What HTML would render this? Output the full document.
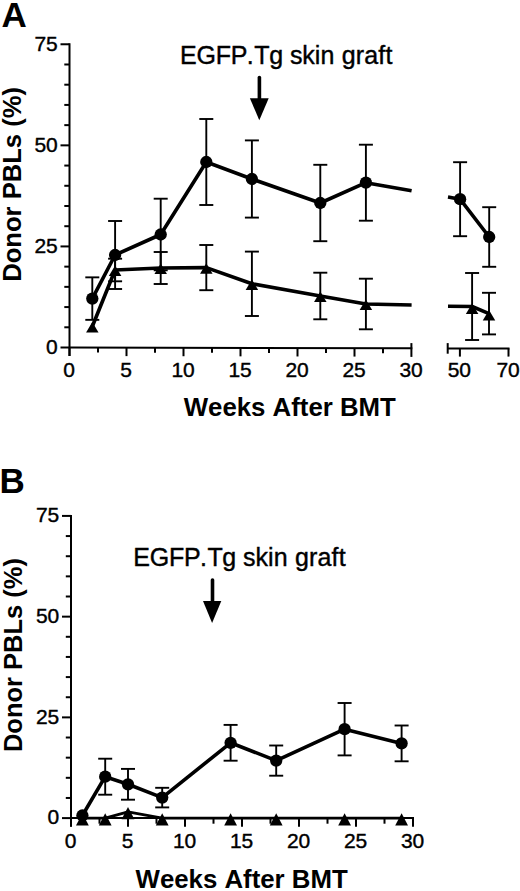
<!DOCTYPE html>
<html><head><meta charset="utf-8"><style>
html,body{margin:0;padding:0;background:#fff;width:520px;height:891px;overflow:hidden}
svg{display:block}
text{font-family:"Liberation Sans",sans-serif;fill:#000;stroke:none;font-kerning:none}
.st{stroke:#000;stroke-width:0.4px}
</style></head><body>
<svg width="520" height="891" viewBox="0 0 520 891" stroke="#000" fill="#000">
<g font-family="Liberation Sans, sans-serif" stroke="none">
</g>
<line x1="69.50" y1="43.27" x2="69.50" y2="356.00" stroke-width="2.0" stroke-linecap="butt"/>
<line x1="60.50" y1="347.50" x2="69.50" y2="347.50" stroke-width="2.0" stroke-linecap="butt"/>
<line x1="64.30" y1="327.29" x2="69.50" y2="327.29" stroke-width="2.0" stroke-linecap="butt"/>
<line x1="64.30" y1="307.07" x2="69.50" y2="307.07" stroke-width="2.0" stroke-linecap="butt"/>
<line x1="64.30" y1="286.86" x2="69.50" y2="286.86" stroke-width="2.0" stroke-linecap="butt"/>
<line x1="64.30" y1="266.64" x2="69.50" y2="266.64" stroke-width="2.0" stroke-linecap="butt"/>
<line x1="60.50" y1="246.43" x2="69.50" y2="246.43" stroke-width="2.0" stroke-linecap="butt"/>
<line x1="64.30" y1="226.21" x2="69.50" y2="226.21" stroke-width="2.0" stroke-linecap="butt"/>
<line x1="64.30" y1="206.00" x2="69.50" y2="206.00" stroke-width="2.0" stroke-linecap="butt"/>
<line x1="64.30" y1="185.78" x2="69.50" y2="185.78" stroke-width="2.0" stroke-linecap="butt"/>
<line x1="64.30" y1="165.56" x2="69.50" y2="165.56" stroke-width="2.0" stroke-linecap="butt"/>
<line x1="60.50" y1="145.35" x2="69.50" y2="145.35" stroke-width="2.0" stroke-linecap="butt"/>
<line x1="64.30" y1="125.13" x2="69.50" y2="125.13" stroke-width="2.0" stroke-linecap="butt"/>
<line x1="64.30" y1="104.92" x2="69.50" y2="104.92" stroke-width="2.0" stroke-linecap="butt"/>
<line x1="64.30" y1="84.70" x2="69.50" y2="84.70" stroke-width="2.0" stroke-linecap="butt"/>
<line x1="64.30" y1="64.49" x2="69.50" y2="64.49" stroke-width="2.0" stroke-linecap="butt"/>
<line x1="60.50" y1="44.27" x2="69.50" y2="44.27" stroke-width="2.0" stroke-linecap="butt"/>
<line x1="69.50" y1="347.50" x2="412.30" y2="348.20" stroke-width="2.0" stroke-linecap="butt"/>
<line x1="69.50" y1="347.50" x2="69.50" y2="356.00" stroke-width="2.0" stroke-linecap="butt"/>
<line x1="98.00" y1="347.56" x2="98.00" y2="352.56" stroke-width="2.0" stroke-linecap="butt"/>
<line x1="126.50" y1="347.62" x2="126.50" y2="356.12" stroke-width="2.0" stroke-linecap="butt"/>
<line x1="155.00" y1="347.67" x2="155.00" y2="352.67" stroke-width="2.0" stroke-linecap="butt"/>
<line x1="183.50" y1="347.73" x2="183.50" y2="356.23" stroke-width="2.0" stroke-linecap="butt"/>
<line x1="212.00" y1="347.79" x2="212.00" y2="352.79" stroke-width="2.0" stroke-linecap="butt"/>
<line x1="240.50" y1="347.85" x2="240.50" y2="356.35" stroke-width="2.0" stroke-linecap="butt"/>
<line x1="269.00" y1="347.91" x2="269.00" y2="352.91" stroke-width="2.0" stroke-linecap="butt"/>
<line x1="297.50" y1="347.97" x2="297.50" y2="356.47" stroke-width="2.0" stroke-linecap="butt"/>
<line x1="326.00" y1="348.02" x2="326.00" y2="353.02" stroke-width="2.0" stroke-linecap="butt"/>
<line x1="354.50" y1="348.08" x2="354.50" y2="356.58" stroke-width="2.0" stroke-linecap="butt"/>
<line x1="383.00" y1="348.14" x2="383.00" y2="353.14" stroke-width="2.0" stroke-linecap="butt"/>
<line x1="411.40" y1="343.10" x2="411.40" y2="356.90" stroke-width="2.0" stroke-linecap="butt"/>
<line x1="447.90" y1="348.40" x2="509.50" y2="348.40" stroke-width="2.0" stroke-linecap="butt"/>
<line x1="447.70" y1="343.10" x2="447.70" y2="353.70" stroke-width="2.0" stroke-linecap="butt"/>
<line x1="459.90" y1="348.40" x2="459.90" y2="356.60" stroke-width="2.0" stroke-linecap="butt"/>
<line x1="508.50" y1="348.40" x2="508.50" y2="356.60" stroke-width="2.0" stroke-linecap="butt"/>
<line x1="92.30" y1="277.35" x2="92.30" y2="319.85" stroke-width="1.9" stroke-linecap="butt"/>
<line x1="85.30" y1="277.35" x2="99.30" y2="277.35" stroke-width="1.9" stroke-linecap="butt"/>
<line x1="85.30" y1="319.85" x2="99.30" y2="319.85" stroke-width="1.9" stroke-linecap="butt"/>
<line x1="115.10" y1="221.00" x2="115.10" y2="289.00" stroke-width="1.9" stroke-linecap="butt"/>
<line x1="108.10" y1="221.00" x2="122.10" y2="221.00" stroke-width="1.9" stroke-linecap="butt"/>
<line x1="108.10" y1="289.00" x2="122.10" y2="289.00" stroke-width="1.9" stroke-linecap="butt"/>
<line x1="160.70" y1="198.70" x2="160.70" y2="270.30" stroke-width="1.9" stroke-linecap="butt"/>
<line x1="153.70" y1="198.70" x2="167.70" y2="198.70" stroke-width="1.9" stroke-linecap="butt"/>
<line x1="153.70" y1="270.30" x2="167.70" y2="270.30" stroke-width="1.9" stroke-linecap="butt"/>
<line x1="206.30" y1="119.00" x2="206.30" y2="205.00" stroke-width="1.9" stroke-linecap="butt"/>
<line x1="199.30" y1="119.00" x2="213.30" y2="119.00" stroke-width="1.9" stroke-linecap="butt"/>
<line x1="199.30" y1="205.00" x2="213.30" y2="205.00" stroke-width="1.9" stroke-linecap="butt"/>
<line x1="251.90" y1="140.40" x2="251.90" y2="217.60" stroke-width="1.9" stroke-linecap="butt"/>
<line x1="244.90" y1="140.40" x2="258.90" y2="140.40" stroke-width="1.9" stroke-linecap="butt"/>
<line x1="244.90" y1="217.60" x2="258.90" y2="217.60" stroke-width="1.9" stroke-linecap="butt"/>
<line x1="320.30" y1="164.80" x2="320.30" y2="241.20" stroke-width="1.9" stroke-linecap="butt"/>
<line x1="313.30" y1="164.80" x2="327.30" y2="164.80" stroke-width="1.9" stroke-linecap="butt"/>
<line x1="313.30" y1="241.20" x2="327.30" y2="241.20" stroke-width="1.9" stroke-linecap="butt"/>
<line x1="365.90" y1="144.70" x2="365.90" y2="220.70" stroke-width="1.9" stroke-linecap="butt"/>
<line x1="358.90" y1="144.70" x2="372.90" y2="144.70" stroke-width="1.9" stroke-linecap="butt"/>
<line x1="358.90" y1="220.70" x2="372.90" y2="220.70" stroke-width="1.9" stroke-linecap="butt"/>
<line x1="115.10" y1="258.70" x2="115.10" y2="281.30" stroke-width="1.9" stroke-linecap="butt"/>
<line x1="108.10" y1="258.70" x2="122.10" y2="258.70" stroke-width="1.9" stroke-linecap="butt"/>
<line x1="108.10" y1="281.30" x2="122.10" y2="281.30" stroke-width="1.9" stroke-linecap="butt"/>
<line x1="160.70" y1="252.00" x2="160.70" y2="284.00" stroke-width="1.9" stroke-linecap="butt"/>
<line x1="153.70" y1="252.00" x2="167.70" y2="252.00" stroke-width="1.9" stroke-linecap="butt"/>
<line x1="153.70" y1="284.00" x2="167.70" y2="284.00" stroke-width="1.9" stroke-linecap="butt"/>
<line x1="206.30" y1="245.00" x2="206.30" y2="290.20" stroke-width="1.9" stroke-linecap="butt"/>
<line x1="199.30" y1="245.00" x2="213.30" y2="245.00" stroke-width="1.9" stroke-linecap="butt"/>
<line x1="199.30" y1="290.20" x2="213.30" y2="290.20" stroke-width="1.9" stroke-linecap="butt"/>
<line x1="251.90" y1="251.60" x2="251.90" y2="316.00" stroke-width="1.9" stroke-linecap="butt"/>
<line x1="244.90" y1="251.60" x2="258.90" y2="251.60" stroke-width="1.9" stroke-linecap="butt"/>
<line x1="244.90" y1="316.00" x2="258.90" y2="316.00" stroke-width="1.9" stroke-linecap="butt"/>
<line x1="320.30" y1="272.70" x2="320.30" y2="319.30" stroke-width="1.9" stroke-linecap="butt"/>
<line x1="313.30" y1="272.70" x2="327.30" y2="272.70" stroke-width="1.9" stroke-linecap="butt"/>
<line x1="313.30" y1="319.30" x2="327.30" y2="319.30" stroke-width="1.9" stroke-linecap="butt"/>
<line x1="365.90" y1="278.70" x2="365.90" y2="329.30" stroke-width="1.9" stroke-linecap="butt"/>
<line x1="358.90" y1="278.70" x2="372.90" y2="278.70" stroke-width="1.9" stroke-linecap="butt"/>
<line x1="358.90" y1="329.30" x2="372.90" y2="329.30" stroke-width="1.9" stroke-linecap="butt"/>
<line x1="460.10" y1="162.20" x2="460.10" y2="236.20" stroke-width="1.9" stroke-linecap="butt"/>
<line x1="453.10" y1="162.20" x2="467.10" y2="162.20" stroke-width="1.9" stroke-linecap="butt"/>
<line x1="453.10" y1="236.20" x2="467.10" y2="236.20" stroke-width="1.9" stroke-linecap="butt"/>
<line x1="489.20" y1="207.20" x2="489.20" y2="266.80" stroke-width="1.9" stroke-linecap="butt"/>
<line x1="482.20" y1="207.20" x2="496.20" y2="207.20" stroke-width="1.9" stroke-linecap="butt"/>
<line x1="482.20" y1="266.80" x2="496.20" y2="266.80" stroke-width="1.9" stroke-linecap="butt"/>
<line x1="472.10" y1="273.00" x2="472.10" y2="340.00" stroke-width="1.9" stroke-linecap="butt"/>
<line x1="465.10" y1="273.00" x2="479.10" y2="273.00" stroke-width="1.9" stroke-linecap="butt"/>
<line x1="465.10" y1="340.00" x2="479.10" y2="340.00" stroke-width="1.9" stroke-linecap="butt"/>
<line x1="489.00" y1="292.80" x2="489.00" y2="334.40" stroke-width="1.9" stroke-linecap="butt"/>
<line x1="482.00" y1="292.80" x2="496.00" y2="292.80" stroke-width="1.9" stroke-linecap="butt"/>
<line x1="482.00" y1="334.40" x2="496.00" y2="334.40" stroke-width="1.9" stroke-linecap="butt"/>
<polyline points="92.30,298.60 115.10,255.00 160.70,234.50 206.30,162.00 251.90,179.00 320.30,203.00 365.90,182.70 411.60,190.80" fill="none" stroke-width="3.6" stroke-linejoin="round"/>
<polyline points="92.30,326.50 115.10,270.00 160.70,268.00 206.30,267.60 251.90,283.80 320.30,296.00 365.90,304.00 411.60,305.00" fill="none" stroke-width="3.6" stroke-linejoin="round"/>
<polyline points="448.00,197.00 460.10,199.20 489.20,237.00" fill="none" stroke-width="3.6" stroke-linejoin="round"/>
<polyline points="448.00,306.30 472.10,306.50 489.00,313.60" fill="none" stroke-width="3.6" stroke-linejoin="round"/>
<circle cx="92.30" cy="298.60" r="6.15" stroke="none"/>
<circle cx="115.10" cy="255.00" r="6.15" stroke="none"/>
<circle cx="160.70" cy="234.50" r="6.15" stroke="none"/>
<circle cx="206.30" cy="162.00" r="6.15" stroke="none"/>
<circle cx="251.90" cy="179.00" r="6.15" stroke="none"/>
<circle cx="320.30" cy="203.00" r="6.15" stroke="none"/>
<circle cx="365.90" cy="182.70" r="6.15" stroke="none"/>
<polygon points="86.05,332.59 98.55,332.59 92.30,322.09" stroke="none"/>
<polygon points="108.85,276.09 121.35,276.09 115.10,265.59" stroke="none"/>
<polygon points="154.45,274.09 166.95,274.09 160.70,263.59" stroke="none"/>
<polygon points="200.05,273.69 212.55,273.69 206.30,263.19" stroke="none"/>
<polygon points="245.65,289.89 258.15,289.89 251.90,279.39" stroke="none"/>
<polygon points="314.05,302.09 326.55,302.09 320.30,291.59" stroke="none"/>
<polygon points="359.65,310.09 372.15,310.09 365.90,299.59" stroke="none"/>
<circle cx="460.10" cy="199.20" r="6.15" stroke="none"/>
<circle cx="489.20" cy="237.00" r="6.15" stroke="none"/>
<polygon points="465.85,314.09 478.35,314.09 472.10,303.59" stroke="none"/>
<polygon points="482.75,320.49 495.25,320.49 489.00,309.99" stroke="none"/>
<line x1="259.40" y1="77.50" x2="259.40" y2="100.00" stroke-width="3.6" stroke-linecap="round"/>
<polygon points="249.9,98.2 268.7,98.2 259.3,120.3" stroke="none"/>
<line x1="71.00" y1="514.92" x2="71.00" y2="826.60" stroke-width="2.0" stroke-linecap="butt"/>
<line x1="62.00" y1="818.10" x2="71.00" y2="818.10" stroke-width="2.0" stroke-linecap="butt"/>
<line x1="65.80" y1="797.96" x2="71.00" y2="797.96" stroke-width="2.0" stroke-linecap="butt"/>
<line x1="65.80" y1="777.81" x2="71.00" y2="777.81" stroke-width="2.0" stroke-linecap="butt"/>
<line x1="65.80" y1="757.66" x2="71.00" y2="757.66" stroke-width="2.0" stroke-linecap="butt"/>
<line x1="65.80" y1="737.52" x2="71.00" y2="737.52" stroke-width="2.0" stroke-linecap="butt"/>
<line x1="62.00" y1="717.38" x2="71.00" y2="717.38" stroke-width="2.0" stroke-linecap="butt"/>
<line x1="65.80" y1="697.23" x2="71.00" y2="697.23" stroke-width="2.0" stroke-linecap="butt"/>
<line x1="65.80" y1="677.09" x2="71.00" y2="677.09" stroke-width="2.0" stroke-linecap="butt"/>
<line x1="65.80" y1="656.94" x2="71.00" y2="656.94" stroke-width="2.0" stroke-linecap="butt"/>
<line x1="65.80" y1="636.80" x2="71.00" y2="636.80" stroke-width="2.0" stroke-linecap="butt"/>
<line x1="62.00" y1="616.65" x2="71.00" y2="616.65" stroke-width="2.0" stroke-linecap="butt"/>
<line x1="65.80" y1="596.50" x2="71.00" y2="596.50" stroke-width="2.0" stroke-linecap="butt"/>
<line x1="65.80" y1="576.36" x2="71.00" y2="576.36" stroke-width="2.0" stroke-linecap="butt"/>
<line x1="65.80" y1="556.22" x2="71.00" y2="556.22" stroke-width="2.0" stroke-linecap="butt"/>
<line x1="65.80" y1="536.07" x2="71.00" y2="536.07" stroke-width="2.0" stroke-linecap="butt"/>
<line x1="62.00" y1="515.92" x2="71.00" y2="515.92" stroke-width="2.0" stroke-linecap="butt"/>
<line x1="71.00" y1="818.10" x2="414.00" y2="818.10" stroke-width="2.0" stroke-linecap="butt"/>
<line x1="71.00" y1="818.10" x2="71.00" y2="826.80" stroke-width="2.0" stroke-linecap="butt"/>
<line x1="99.50" y1="818.10" x2="99.50" y2="823.70" stroke-width="2.0" stroke-linecap="butt"/>
<line x1="128.00" y1="818.10" x2="128.00" y2="826.80" stroke-width="2.0" stroke-linecap="butt"/>
<line x1="156.50" y1="818.10" x2="156.50" y2="823.70" stroke-width="2.0" stroke-linecap="butt"/>
<line x1="185.00" y1="818.10" x2="185.00" y2="826.80" stroke-width="2.0" stroke-linecap="butt"/>
<line x1="213.50" y1="818.10" x2="213.50" y2="823.70" stroke-width="2.0" stroke-linecap="butt"/>
<line x1="242.00" y1="818.10" x2="242.00" y2="826.80" stroke-width="2.0" stroke-linecap="butt"/>
<line x1="270.50" y1="818.10" x2="270.50" y2="823.70" stroke-width="2.0" stroke-linecap="butt"/>
<line x1="299.00" y1="818.10" x2="299.00" y2="826.80" stroke-width="2.0" stroke-linecap="butt"/>
<line x1="327.50" y1="818.10" x2="327.50" y2="823.70" stroke-width="2.0" stroke-linecap="butt"/>
<line x1="356.00" y1="818.10" x2="356.00" y2="826.80" stroke-width="2.0" stroke-linecap="butt"/>
<line x1="384.50" y1="818.10" x2="384.50" y2="823.70" stroke-width="2.0" stroke-linecap="butt"/>
<line x1="413.00" y1="818.10" x2="413.00" y2="826.80" stroke-width="2.0" stroke-linecap="butt"/>
<line x1="105.20" y1="758.70" x2="105.20" y2="794.70" stroke-width="1.9" stroke-linecap="butt"/>
<line x1="98.20" y1="758.70" x2="112.20" y2="758.70" stroke-width="1.9" stroke-linecap="butt"/>
<line x1="98.20" y1="794.70" x2="112.20" y2="794.70" stroke-width="1.9" stroke-linecap="butt"/>
<line x1="128.00" y1="768.90" x2="128.00" y2="799.70" stroke-width="1.9" stroke-linecap="butt"/>
<line x1="121.00" y1="768.90" x2="135.00" y2="768.90" stroke-width="1.9" stroke-linecap="butt"/>
<line x1="121.00" y1="799.70" x2="135.00" y2="799.70" stroke-width="1.9" stroke-linecap="butt"/>
<line x1="162.20" y1="787.80" x2="162.20" y2="807.40" stroke-width="1.9" stroke-linecap="butt"/>
<line x1="155.20" y1="787.80" x2="169.20" y2="787.80" stroke-width="1.9" stroke-linecap="butt"/>
<line x1="155.20" y1="807.40" x2="169.20" y2="807.40" stroke-width="1.9" stroke-linecap="butt"/>
<line x1="230.60" y1="724.90" x2="230.60" y2="760.70" stroke-width="1.9" stroke-linecap="butt"/>
<line x1="223.60" y1="724.90" x2="237.60" y2="724.90" stroke-width="1.9" stroke-linecap="butt"/>
<line x1="223.60" y1="760.70" x2="237.60" y2="760.70" stroke-width="1.9" stroke-linecap="butt"/>
<line x1="276.20" y1="745.50" x2="276.20" y2="775.70" stroke-width="1.9" stroke-linecap="butt"/>
<line x1="269.20" y1="745.50" x2="283.20" y2="745.50" stroke-width="1.9" stroke-linecap="butt"/>
<line x1="269.20" y1="775.70" x2="283.20" y2="775.70" stroke-width="1.9" stroke-linecap="butt"/>
<line x1="344.60" y1="703.00" x2="344.60" y2="755.40" stroke-width="1.9" stroke-linecap="butt"/>
<line x1="337.60" y1="703.00" x2="351.60" y2="703.00" stroke-width="1.9" stroke-linecap="butt"/>
<line x1="337.60" y1="755.40" x2="351.60" y2="755.40" stroke-width="1.9" stroke-linecap="butt"/>
<line x1="401.60" y1="725.50" x2="401.60" y2="761.30" stroke-width="1.9" stroke-linecap="butt"/>
<line x1="394.60" y1="725.50" x2="408.60" y2="725.50" stroke-width="1.9" stroke-linecap="butt"/>
<line x1="394.60" y1="761.30" x2="408.60" y2="761.30" stroke-width="1.9" stroke-linecap="butt"/>
<polyline points="82.40,815.50 105.20,776.70 128.00,784.30 162.20,797.60 230.60,742.80 276.20,760.60 344.60,729.20 401.60,743.40" fill="none" stroke-width="3.6" stroke-linejoin="round"/>
<polyline points="82.40,818.10 105.20,818.10 128.00,811.80 162.20,818.10 230.60,818.10 276.20,818.10 344.60,818.10 401.60,818.10" fill="none" stroke-width="2.8" stroke-linejoin="round"/>
<polygon points="76.00,825.53 88.80,825.53 82.40,813.23" stroke="none"/>
<polygon points="98.80,825.53 111.60,825.53 105.20,813.23" stroke="none"/>
<polygon points="121.60,819.23 134.40,819.23 128.00,806.93" stroke="none"/>
<polygon points="155.80,825.53 168.60,825.53 162.20,813.23" stroke="none"/>
<polygon points="224.20,825.53 237.00,825.53 230.60,813.23" stroke="none"/>
<polygon points="269.80,825.53 282.60,825.53 276.20,813.23" stroke="none"/>
<polygon points="338.20,825.53 351.00,825.53 344.60,813.23" stroke="none"/>
<polygon points="395.20,825.53 408.00,825.53 401.60,813.23" stroke="none"/>
<circle cx="82.40" cy="815.50" r="6.15" stroke="none"/>
<circle cx="105.20" cy="776.70" r="6.15" stroke="none"/>
<circle cx="128.00" cy="784.30" r="6.15" stroke="none"/>
<circle cx="162.20" cy="797.60" r="6.15" stroke="none"/>
<circle cx="230.60" cy="742.80" r="6.15" stroke="none"/>
<circle cx="276.20" cy="760.60" r="6.15" stroke="none"/>
<circle cx="344.60" cy="729.20" r="6.15" stroke="none"/>
<circle cx="401.60" cy="743.40" r="6.15" stroke="none"/>
<line x1="212.50" y1="580.00" x2="212.50" y2="603.00" stroke-width="3.6" stroke-linecap="round"/>
<polygon points="203,601 221.3,601 212.1,622.9" stroke="none"/>
<text x="57.80" y="353.80" font-size="21" font-weight="normal" text-anchor="end" class="st">0</text>
<text x="57.80" y="252.73" font-size="21" font-weight="normal" text-anchor="end" class="st">25</text>
<text x="57.80" y="151.65" font-size="21" font-weight="normal" text-anchor="end" class="st">50</text>
<text x="57.80" y="50.57" font-size="21" font-weight="normal" text-anchor="end" class="st">75</text>
<text x="69.10" y="377.40" font-size="21" font-weight="normal" text-anchor="middle" class="st">0</text>
<text x="126.10" y="377.40" font-size="21" font-weight="normal" text-anchor="middle" class="st">5</text>
<text x="183.10" y="377.40" font-size="21" font-weight="normal" text-anchor="middle" class="st">10</text>
<text x="240.10" y="377.40" font-size="21" font-weight="normal" text-anchor="middle" class="st">15</text>
<text x="297.10" y="377.40" font-size="21" font-weight="normal" text-anchor="middle" class="st">20</text>
<text x="354.10" y="377.40" font-size="21" font-weight="normal" text-anchor="middle" class="st">25</text>
<text x="411.10" y="377.40" font-size="21" font-weight="normal" text-anchor="middle" class="st">30</text>
<text x="459.35" y="377.40" font-size="21" font-weight="normal" text-anchor="middle" class="st">50</text>
<text x="508.10" y="377.40" font-size="21" font-weight="normal" text-anchor="middle" class="st">70</text>
<text x="59.30" y="824.40" font-size="21" font-weight="normal" text-anchor="end" class="st">0</text>
<text x="59.30" y="723.67" font-size="21" font-weight="normal" text-anchor="end" class="st">25</text>
<text x="59.30" y="622.95" font-size="21" font-weight="normal" text-anchor="end" class="st">50</text>
<text x="59.30" y="522.22" font-size="21" font-weight="normal" text-anchor="end" class="st">75</text>
<text x="70.60" y="848.00" font-size="21" font-weight="normal" text-anchor="middle" class="st">0</text>
<text x="127.60" y="848.00" font-size="21" font-weight="normal" text-anchor="middle" class="st">5</text>
<text x="184.60" y="848.00" font-size="21" font-weight="normal" text-anchor="middle" class="st">10</text>
<text x="241.60" y="848.00" font-size="21" font-weight="normal" text-anchor="middle" class="st">15</text>
<text x="298.60" y="848.00" font-size="21" font-weight="normal" text-anchor="middle" class="st">20</text>
<text x="355.60" y="848.00" font-size="21" font-weight="normal" text-anchor="middle" class="st">25</text>
<text x="412.60" y="848.00" font-size="21" font-weight="normal" text-anchor="middle" class="st">30</text>
<text x="1.40" y="26.80" font-size="35" font-weight="bold" text-anchor="start" >A</text>
<text x="-0.60" y="493.00" font-size="35" font-weight="bold" text-anchor="start" >B</text>
<text x="180.00" y="63.50" font-size="25" font-weight="normal" text-anchor="start" class="st" dx="0 -0.2 -0.2 -0.3 -0.7 0.6 -0.4 0 -0.1 -0.2 0 0.3 0.2 0.2 0.1 0.2 0.1 0.2">EGFP.Tg skin graft</text>
<text x="133.20" y="566.40" font-size="25" font-weight="normal" text-anchor="start" class="st" dx="0 -0.2 -0.2 -0.3 -0.7 0.6 -0.4 0 -0.1 -0.2 0 0.3 0.2 0.2 0.1 0.2 0.1 0.2">EGFP.Tg skin graft</text>
<text x="183.72" y="416.10" font-size="25.8" font-weight="bold" text-anchor="start" >Weeks After BMT</text>
<text x="135.57" y="887.60" font-size="25.8" font-weight="bold" text-anchor="start" >Weeks After BMT</text>
<text transform="translate(20.8,281.8) rotate(-90)" font-size="25.6" font-weight="bold">Donor PBLs (%)</text>
<text transform="translate(22.3,752.1) rotate(-90)" font-size="25.5" font-weight="bold">Donor PBLs (%)</text>
</svg>
</body></html>
